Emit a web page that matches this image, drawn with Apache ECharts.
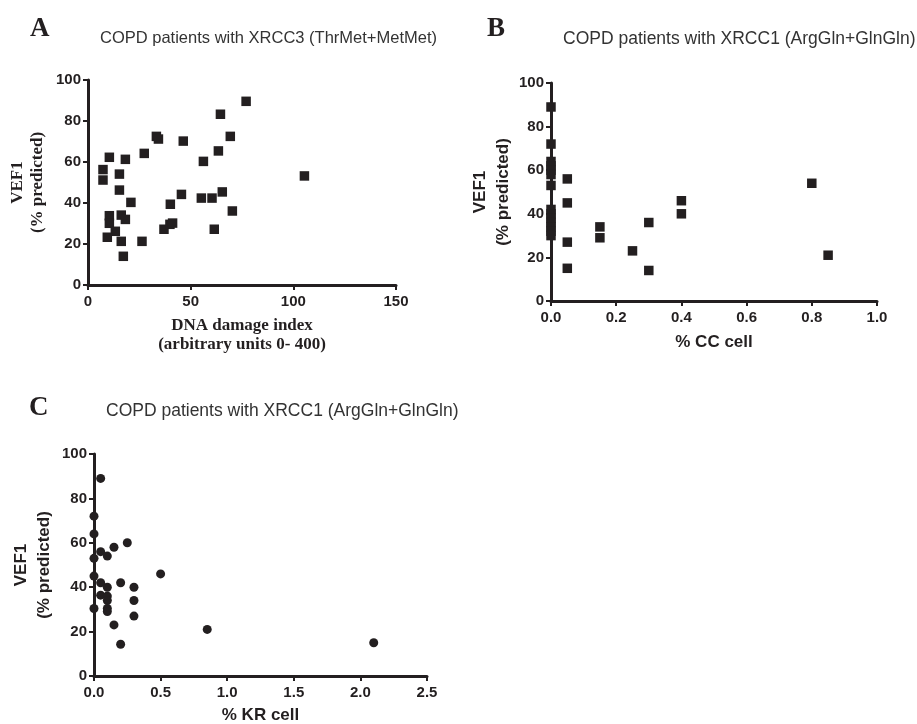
<!DOCTYPE html>
<html>
<head>
<meta charset="utf-8">
<script src="https://cdn.jsdelivr.net/npm/echarts@6/dist/echarts.min.js"></script>
<style>
html,body{margin:0;padding:0;background:#fff;}
#c{width:917px;height:724px;}
</style>
</head>
<body>
<div id="c"></div>
<script>
// Panel A: DNA damage index vs VEF1 (XRCC3 ThrMet+MetMet)
var aX = [77, 64.5, 69.3, 33.3, 34.3, 46.4, 27.4, 63.5, 10.4, 18.2, 56.2, 7.3, 15.3, 7.3, 105.4, 15.3, 45.5, 65.4, 55.2, 60.4, 20.9, 40.1, 70.3, 10.4, 16.2, 10.4, 18.2, 13.3, 9.4, 16.2, 26.3, 17.2, 37, 39.9, 41.2, 61.5];
var aY = [89.6, 83.3, 72.5, 72.5, 71.2, 70.2, 64.2, 65.4, 62.3, 61.3, 60.3, 56.3, 54.1, 51.2, 53.2, 46.3, 44.2, 45.4, 42.4, 42.4, 40.3, 39.4, 36.1, 33.8, 34.1, 30.1, 32, 26.2, 23.3, 21.3, 21.3, 14, 27.2, 29.6, 30.2, 27.2];
// Panel B: % CC cell vs VEF1 (XRCC1 ArgGln+GlnGln)
var bX = [0, 0, 0, 0, 0, 0, 0, 0, 0, 0, 0, 0, 0, 0, 0.05, 0.05, 0.05, 0.05, 0.15, 0.15, 0.25, 0.3, 0.3, 0.4, 0.4, 0.8, 0.85];
var bY = [89, 72, 64, 62, 60, 58, 53, 42, 40, 38, 36, 34, 32, 30, 56, 45, 27, 15, 34, 29, 23, 36, 14, 46, 40, 54, 21];
// Panel C: % KR cell vs VEF1 (XRCC1 ArgGln+GlnGln)
var cX = [0.05, 0, 0, 0.25, 0.15, 0.05, 0.1, 0, 0, 0.5, 0.05, 0.2, 0.1, 0.3, 0.05, 0.1, 0.1, 0.3, 0, 0.1, 0.1, 0.3, 0.15, 0.2, 0.85, 2.1];
var cY = [89, 72, 64, 60, 58, 56, 54, 53, 45, 46, 42, 42, 40, 40, 36.4, 36, 34, 34, 30.4, 30.4, 29, 27, 23, 14.3, 21, 15];
var yTicks = [0, 20, 40, 60, 80, 100];
var aXTicks = [0, 50, 100, 150];
var bXTicks = [0, 0.2, 0.4, 0.6, 0.8, 1.0];
var cXTicks = [0, 0.5, 1.0, 1.5, 2.0, 2.5];

var titles = ['COPD patients with XRCC3 (ThrMet+MetMet)', 'COPD patients with XRCC1 (ArgGln+GlnGln)', 'COPD patients with XRCC1 (ArgGln+GlnGln)'];
var letters = ['A', 'B', 'C'];

function pairs(xs, ys) { return xs.map(function (x, i) { return [x, ys[i]]; }); }

var SANS = '"Liberation Sans", Arial, Helvetica, sans-serif';
var SERIF = '"Liberation Serif", "Times New Roman", serif';
var INK = '#231f20';

function axisBase(extra) {
  var o = {
    axisLine: { show: true, onZero: false, lineStyle: { color: INK, width: 3 } },
    axisTick: { show: true, length: 5, lineStyle: { color: INK, width: 2 } },
    splitLine: { show: false },
    axisLabel: { color: INK, fontFamily: SANS, fontWeight: 'bold', fontSize: 15 }
  };
  for (var k in extra) o[k] = extra[k];
  return o;
}

var chart = echarts.init(document.getElementById('c'), null, { renderer: 'canvas' });

var option = {
  animation: false,
  backgroundColor: '#fff',
  grid: [
    { left: 88, top: 80, width: 308, height: 205, outerBoundsMode: 'none', containLabel: false },
    { left: 551, top: 83, width: 326, height: 218, outerBoundsMode: 'none', containLabel: false },
    { left: 94, top: 454, width: 333, height: 222, outerBoundsMode: 'none', containLabel: false }
  ],
  xAxis: [
    axisBase({ gridIndex: 0, type: 'value', min: 0, max: 150, interval: 50,
      name: 'DNA damage index\n(arbitrary units 0- 400)', nameLocation: 'middle', nameGap: 31,
      nameTextStyle: { fontFamily: SERIF, fontWeight: 'bold', fontSize: 17, lineHeight: 19, color: INK },
      axisLabel: { color: INK, fontFamily: SANS, fontWeight: 'bold', fontSize: 15, margin: 9 } }),
    axisBase({ gridIndex: 1, type: 'value', min: 0, max: 1, interval: 0.2,
      name: '% CC cell', nameLocation: 'middle', nameGap: 31,
      nameTextStyle: { fontFamily: SANS, fontWeight: 'bold', fontSize: 17, lineHeight: 20, color: INK },
      axisLabel: { color: INK, fontFamily: SANS, fontWeight: 'bold', fontSize: 15, margin: 9,
        formatter: function (v) { return v.toFixed(1); } } }),
    axisBase({ gridIndex: 2, type: 'value', min: 0, max: 2.5, interval: 0.5,
      name: '% KR cell', nameLocation: 'middle', nameGap: 29,
      nameTextStyle: { fontFamily: SANS, fontWeight: 'bold', fontSize: 17, lineHeight: 20, color: INK },
      axisLabel: { color: INK, fontFamily: SANS, fontWeight: 'bold', fontSize: 15, margin: 9,
        formatter: function (v) { return v.toFixed(1); } } })
  ],
  yAxis: [
    axisBase({ gridIndex: 0, type: 'value', min: 0, max: 100, interval: 20,
      name: 'VEF1\n(% predicted)', nameLocation: 'middle', nameGap: 40,
      nameTextStyle: { fontFamily: SERIF, fontWeight: 'bold', fontSize: 17, lineHeight: 20, color: INK },
      axisLabel: { color: INK, fontFamily: SANS, fontWeight: 'bold', fontSize: 15, margin: 7 } }),
    axisBase({ gridIndex: 1, type: 'value', min: 0, max: 100, interval: 20,
      name: 'VEF1\n(% predicted)', nameLocation: 'middle', nameGap: 35,
      nameTextStyle: { fontFamily: SANS, fontWeight: 'bold', fontSize: 17, lineHeight: 23, color: INK },
      axisLabel: { color: INK, fontFamily: SANS, fontWeight: 'bold', fontSize: 15, margin: 7 } }),
    axisBase({ gridIndex: 2, type: 'value', min: 0, max: 100, interval: 20,
      name: 'VEF1\n(% predicted)', nameLocation: 'middle', nameGap: 38,
      nameTextStyle: { fontFamily: SANS, fontWeight: 'bold', fontSize: 17, lineHeight: 23, color: INK },
      axisLabel: { color: INK, fontFamily: SANS, fontWeight: 'bold', fontSize: 15, margin: 7 } })
  ],
  series: [
    { type: 'scatter', xAxisIndex: 0, yAxisIndex: 0, data: pairs(aX, aY), symbol: 'rect', symbolSize: 9.5, itemStyle: { color: INK, opacity: 1 }, clip: false, z: 5 },
    { type: 'scatter', xAxisIndex: 1, yAxisIndex: 1, data: pairs(bX, bY), symbol: 'rect', symbolSize: 9.5, itemStyle: { color: INK, opacity: 1 }, clip: false, z: 5 },
    { type: 'scatter', xAxisIndex: 2, yAxisIndex: 2, data: pairs(cX, cY), symbol: 'circle', symbolSize: 9, itemStyle: { color: INK, opacity: 1 }, clip: false, z: 5 }
  ],
  graphic: [
    { type: 'text', left: 30, top: 16, style: { text: letters[0], font: 'bold 27px ' + SERIF, fill: INK } },
    { type: 'text', left: 487, top: 16, style: { text: letters[1], font: 'bold 27px ' + SERIF, fill: INK } },
    { type: 'text', left: 29, top: 395, style: { text: letters[2], font: 'bold 27px ' + SERIF, fill: INK } },
    { type: 'text', left: 100, top: 30, style: { text: titles[0], font: '16.5px ' + SANS, fill: '#333' } },
    { type: 'text', left: 563, top: 30, style: { text: titles[1], font: '17.5px ' + SANS, fill: '#333' } },
    { type: 'text', left: 106, top: 402, style: { text: titles[2], font: '17.5px ' + SANS, fill: '#333' } }
  ]
};
chart.setOption(option);
</script>
</body>
</html>
